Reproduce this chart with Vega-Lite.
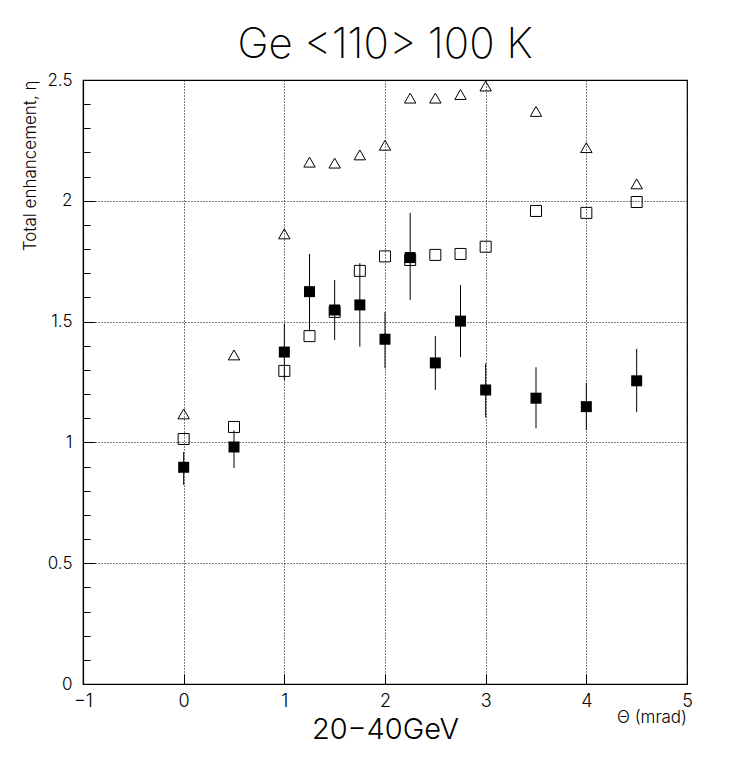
{
  "$schema": "https://vega.github.io/schema/vega-lite/v6.json",
  "autosize": "none",
  "width": 604,
  "height": 604,
  "padding": {"left": 83, "top": 80, "right": 62, "bottom": 75},
  "background": "white",
  "title": {"text": "Ge <110> 100 K", "font": "Inter", "fontWeight": 200, "fontSize": 42, "color": "black", "anchor": "middle", "baseline": "alphabetic", "frame": "group", "offset": 17, "dy": 46},
  "config": {
    "view": {"stroke": "black", "strokeWidth": 1.2},
    "font": "Inter",
    "axis": {"domainColor": "black", "domainWidth": 1.2, "tickColor": "black", "labelColor": "black", "titleColor": "black", "labelFont": "Inter", "titleFont": "Inter", "labelFontWeight": 300, "titleFontWeight": 300, "gridColor": "black", "gridDash": [1, 2], "gridWidth": 1}
  },
  "datasets": {
    "triangles": [
      {"theta": 0, "eta": 1.118}, {"theta": 0.5, "eta": 1.362}, {"theta": 1, "eta": 1.863},
      {"theta": 1.25, "eta": 2.16}, {"theta": 1.5, "eta": 2.156}, {"theta": 1.75, "eta": 2.19},
      {"theta": 2, "eta": 2.23}, {"theta": 2.25, "eta": 2.425}, {"theta": 2.5, "eta": 2.425},
      {"theta": 2.75, "eta": 2.44}, {"theta": 3, "eta": 2.475}, {"theta": 3.5, "eta": 2.37},
      {"theta": 4, "eta": 2.22}, {"theta": 4.5, "eta": 2.07}
    ],
    "open": [
      {"theta": 0, "eta": 1.014}, {"theta": 0.5, "eta": 1.064}, {"theta": 1, "eta": 1.296},
      {"theta": 1.25, "eta": 1.44}, {"theta": 1.5, "eta": 1.54}, {"theta": 1.75, "eta": 1.71},
      {"theta": 2, "eta": 1.77}, {"theta": 2.25, "eta": 1.755}, {"theta": 2.5, "eta": 1.776},
      {"theta": 2.75, "eta": 1.78}, {"theta": 3, "eta": 1.81}, {"theta": 3.5, "eta": 1.958},
      {"theta": 4, "eta": 1.95}, {"theta": 4.5, "eta": 1.995}
    ],
    "filled": [
      {"theta": 0, "eta": 0.897, "lo": 0.824, "hi": 0.96},
      {"theta": 0.5, "eta": 0.981, "lo": 0.894, "hi": 1.05},
      {"theta": 1, "eta": 1.374, "lo": 1.258, "hi": 1.49},
      {"theta": 1.25, "eta": 1.624, "lo": 1.46, "hi": 1.78},
      {"theta": 1.5, "eta": 1.548, "lo": 1.424, "hi": 1.672},
      {"theta": 1.75, "eta": 1.569, "lo": 1.396, "hi": 1.742},
      {"theta": 2, "eta": 1.427, "lo": 1.308, "hi": 1.54},
      {"theta": 2.25, "eta": 1.765, "lo": 1.59, "hi": 1.95},
      {"theta": 2.5, "eta": 1.329, "lo": 1.217, "hi": 1.44},
      {"theta": 2.75, "eta": 1.502, "lo": 1.353, "hi": 1.651},
      {"theta": 3, "eta": 1.217, "lo": 1.104, "hi": 1.327},
      {"theta": 3.5, "eta": 1.183, "lo": 1.058, "hi": 1.311},
      {"theta": 4, "eta": 1.148, "lo": 1.051, "hi": 1.247},
      {"theta": 4.5, "eta": 1.255, "lo": 1.125, "hi": 1.387}
    ]
  },
  "layer": [
    {
      "data": {"name": "filled"},
      "mark": {"type": "rule", "color": "black", "strokeWidth": 1},
      "encoding": {
        "x": {"field": "theta", "type": "quantitative", "scale": {"domain": [-1, 5], "nice": false, "zero": false},
          "axis": {"values": [-1, 0, 1, 2, 3, 4, 5], "tickCount": 30, "format": "d", "grid": true, "tickSize": -10, "labelPadding": 18, "labelFontSize": 18, "labelOverlap": false, "labelFlush": false, "title": "20−40GeV", "titleFontSize": 29, "titlePadding": 5}},
        "y": {"field": "lo", "type": "quantitative", "scale": {"domain": [0, 2.5], "nice": false},
          "axis": {"values": [0, 0.1, 0.2, 0.3, 0.4, 0.5, 0.6, 0.7, 0.8, 0.9, 1, 1.1, 1.2, 1.3, 1.4, 1.5, 1.6, 1.7, 1.8, 1.9, 2, 2.1, 2.2, 2.3, 2.4, 2.5],
            "tickCount": 40, "format": ".1~f", "labelFontSize": 17, "grid": true, "labelOverlap": false, "labelFlush": false, "labelBound": false,
            "labelExpr": "abs(datum.value*2 - round(datum.value*2)) < 0.001 ? datum.label : ''",
            "tickSize": {"condition": {"test": "abs(datum.value*2 - round(datum.value*2)) < 0.001", "value": -12}, "value": -7},
            "gridOpacity": {"condition": {"test": "datum.value > 0.01 && datum.value < 2.49 && abs(datum.value*2 - round(datum.value*2)) < 0.001", "value": 1}, "value": 0},
            "labelPadding": 23,
            "title": "Total enhancement, η", "titleFontSize": 17, "titleAnchor": "end", "titlePadding": 7}},
        "y2": {"field": "hi"}
      }
    },
    {
      "data": {"name": "triangles"},
      "mark": {"type": "point", "shape": "triangle-up", "filled": false, "stroke": "black", "strokeWidth": 1, "size": 130, "opacity": 1},
      "encoding": {"x": {"field": "theta", "type": "quantitative"}, "y": {"field": "eta", "type": "quantitative"}}
    },
    {
      "data": {"name": "open"},
      "mark": {"type": "point", "shape": "square", "filled": false, "stroke": "black", "strokeWidth": 1, "size": 121, "opacity": 1},
      "encoding": {"x": {"field": "theta", "type": "quantitative"}, "y": {"field": "eta", "type": "quantitative"}}
    },
    {
      "data": {"name": "filled"},
      "mark": {"type": "point", "shape": "square", "filled": true, "color": "black", "size": 121, "opacity": 1},
      "encoding": {"x": {"field": "theta", "type": "quantitative"}, "y": {"field": "eta", "type": "quantitative"}}
    },
    {
      "data": {"values": [{"label": "Θ (mrad)"}]},
      "mark": {"type": "text", "align": "right", "baseline": "middle", "dy": 34, "fontSize": 17, "font": "Inter", "fontWeight": 300, "color": "black", "clip": false},
      "encoding": {"x": {"datum": 5, "type": "quantitative"}, "y": {"datum": 0, "type": "quantitative"}, "text": {"field": "label"}}
    }
  ]
}
